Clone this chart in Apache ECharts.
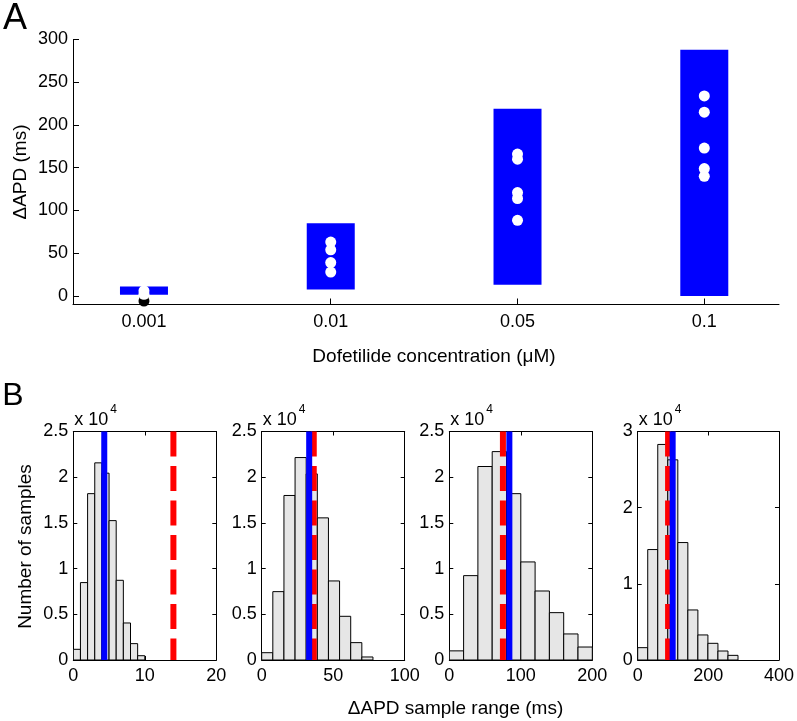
<!DOCTYPE html>
<html>
<head>
<meta charset="utf-8">
<script src="https://cdn.jsdelivr.net/npm/echarts@6/dist/echarts.min.js"></script>
<style>
html,body{margin:0;padding:0;background:#fff;}
#c{width:797px;height:721px;}
</style>
</head>
<body>
<div id="c"></div>
<script>
// ---------- Panel A data ----------
const catLabels = ['0.001', '0.01', '0.05', '0.1'];
const rangeLow  = [1.5, 7.5, 13, 0];
const rangeHigh = [11, 85, 219, 288];
const dotsWhite = [
  [6, 2],
  [63, 54, 39, 28],
  [166, 160, 121, 114, 88.5],
  [234, 215, 173, 149, 140]
];
const dotsBlack = [[-6], [], [], []];
const yTicksA = [0, 50, 100, 150, 200, 250, 300];

// ---------- Panel B data ----------
const histBinWidth = [1, 7.78, 20, 28.4];
const hist1 = [1170, 8470, 18200, 21570, 20440, 15250, 8720, 4050, 1790, 470];
const hist2 = [800, 7480, 18000, 22150, 20360, 15550, 8650, 4780, 1900, 330];
const hist3 = [1000, 9230, 21170, 22800, 18200, 10730, 7550, 5180, 2850, 1420];
const hist4 = [1620, 14500, 28300, 26280, 15420, 6570, 3290, 2190, 1180, 610];
const histCounts = [hist1, hist2, hist3, hist4];
const blueLine = [4.33, 33.2, 84, 99];
const redLine  = [14, 36.4, 75, 86];
const xMaxB = [20, 100, 200, 400];
const xTicksB = [[0, 10, 20], [0, 50, 100], [0, 100, 200], [0, 200, 400]];
const yMaxB = [25000, 25000, 25000, 30000];
const yTicksB = [
  [0, 5000, 10000, 15000, 20000, 25000],
  [0, 5000, 10000, 15000, 20000, 25000],
  [0, 5000, 10000, 15000, 20000, 25000],
  [0, 10000, 20000, 30000]
];

const FONT = 'Liberation Sans, Arial, Helvetica, sans-serif';
const TICK_FS = 18;
const LABEL_FS = 19;
const chart = echarts.init(document.getElementById('c'), null, {renderer: 'canvas'});

const grids = [{left: 73, top: 39.5, width: 706, height: 265}];
const gLeft = [73.3, 261.7, 449.3, 637.7];
gLeft.forEach(l => grids.push({left: l, top: 431.5, width: 143, height: 228.5}));

const xAxes = [];
const yAxes = [];
const series = [];

// Panel A axes
xAxes.push({
  gridIndex: 0, type: 'value', min: 0.62, max: 4.4,
  axisLine: {show: true, onZero: false, lineStyle: {color: '#000', width: 1}},
  axisTick: {show: true, inside: true, length: 6, customValues: [1, 2, 3, 4], lineStyle: {color: '#000'}},
  axisLabel: {show: true, customValues: [1, 2, 3, 4], formatter: v => catLabels[Math.round(v) - 1] || '',
    color: '#000', fontFamily: FONT, fontSize: TICK_FS, margin: 9},
  splitLine: {show: false}
});
yAxes.push({
  gridIndex: 0, type: 'value', min: -10, max: 300,
  axisLine: {show: true, onZero: false, lineStyle: {color: '#000', width: 1}},
  axisTick: {show: true, inside: true, length: 6, customValues: yTicksA, lineStyle: {color: '#000'}},
  axisLabel: {show: true, customValues: yTicksA, color: '#000', fontFamily: FONT, fontSize: TICK_FS, margin: 5},
  splitLine: {show: false}
});

// Panel A series
series.push({
  type: 'custom', xAxisIndex: 0, yAxisIndex: 0,
  data: catLabels.map((c, i) => [i + 1, rangeLow[i], rangeHigh[i]]),
  encode: {x: 0, y: [1, 2]},
  renderItem: (params, api) => {
    const x = api.value(0);
    const pTop = api.coord([x, api.value(2)]);
    const pBot = api.coord([x, api.value(1)]);
    const w = api.size([0.257, 0])[0];
    return {type: 'rect', shape: {x: pTop[0] - w / 2, y: pTop[1], width: w, height: pBot[1] - pTop[1]},
      style: {fill: '#0000ff'}};
  },
  z: 2
});
const blackData = [];
dotsBlack.forEach((arr, i) => arr.forEach(v => blackData.push([i + 1, v])));
const whiteData = [];
dotsWhite.forEach((arr, i) => arr.forEach(v => whiteData.push([i + 1, v])));
series.push({type: 'scatter', xAxisIndex: 0, yAxisIndex: 0, data: blackData, symbolSize: 11,
  itemStyle: {color: '#000', opacity: 1}, z: 3, clip: false});
series.push({type: 'scatter', xAxisIndex: 0, yAxisIndex: 0, data: whiteData, symbolSize: 11,
  itemStyle: {color: '#fff', opacity: 1}, z: 4, clip: false});

// Panel B
for (let k = 0; k < 4; k++) {
  const g = k + 1;
  const xi = xAxes.length;
  xAxes.push({
    gridIndex: g, type: 'value', min: 0, max: xMaxB[k], position: 'bottom',
    axisLine: {show: true, onZero: false, lineStyle: {color: '#000', width: 1}},
    axisTick: {show: true, inside: true, length: 4, customValues: xTicksB[k], lineStyle: {color: '#000'}},
    axisLabel: {show: true, customValues: xTicksB[k], color: '#000', fontFamily: FONT, fontSize: TICK_FS, margin: 7},
    splitLine: {show: false}
  });
  xAxes.push({
    gridIndex: g, type: 'value', min: 0, max: xMaxB[k], position: 'top',
    axisLine: {show: true, onZero: false, lineStyle: {color: '#000', width: 1}},
    axisTick: {show: true, inside: true, length: 4, customValues: xTicksB[k], lineStyle: {color: '#000'}},
    axisLabel: {show: false},
    splitLine: {show: false}
  });
  const yi = yAxes.length;
  yAxes.push({
    gridIndex: g, type: 'value', min: 0, max: yMaxB[k], position: 'left',
    axisLine: {show: true, onZero: false, lineStyle: {color: '#000', width: 1}},
    axisTick: {show: true, inside: true, length: 4, customValues: yTicksB[k], lineStyle: {color: '#000'}},
    axisLabel: {show: true, customValues: yTicksB[k], formatter: v => String(v / 10000),
      color: '#000', fontFamily: FONT, fontSize: TICK_FS, margin: 5},
    splitLine: {show: false}
  });
  yAxes.push({
    gridIndex: g, type: 'value', min: 0, max: yMaxB[k], position: 'right',
    axisLine: {show: true, onZero: false, lineStyle: {color: '#000', width: 1}},
    axisTick: {show: true, inside: true, length: 4, customValues: yTicksB[k], lineStyle: {color: '#000'}},
    axisLabel: {show: false},
    splitLine: {show: false}
  });
  const bw = histBinWidth[k];
  series.push({
    type: 'custom', xAxisIndex: xi, yAxisIndex: yi,
    data: histCounts[k].map((c, i) => [i * bw, (i + 1) * bw, c]),
    encode: {x: [0, 1], y: 2},
    clip: true,
    renderItem: (params, api) => {
      const p0 = api.coord([api.value(0), api.value(2)]);
      const p1 = api.coord([api.value(1), 0]);
      return {type: 'rect', shape: {x: p0[0], y: p0[1], width: p1[0] - p0[0], height: p1[1] - p0[1]},
        style: {fill: '#e6e6e6', stroke: '#000', lineWidth: 1}};
    },
    z: 2
  });
  const vline = (val, color, dash, z, lw) => ({
    type: 'custom', xAxisIndex: xi, yAxisIndex: yi,
    data: [[val, 0]],
    encode: {x: 0, y: 1},
    renderItem: (params, api) => {
      const cs = params.coordSys;
      const px = api.coord([api.value(0), 0])[0];
      return {type: 'line', shape: {x1: px, y1: cs.y, x2: px, y2: cs.y + cs.height},
        style: {stroke: color, lineWidth: lw, lineDash: dash, lineCap: 'butt'}};
    },
    z: z
  });
  series.push(vline(redLine[k], '#ff0000', [25, 9.5], 3, 6));
  series.push(vline(blueLine[k], '#0000ff', null, 4, 6));
}

// Texts
const graphics = [];
const txt = (text, x, y, size, opts) => Object.assign({
  type: 'text', x: x, y: y,
  style: {text: text, font: size + 'px ' + FONT, fill: '#000',
    textAlign: 'center', textVerticalAlign: 'middle', align: 'center', verticalAlign: 'middle'}
}, opts || {});
graphics.push(txt('A', 15, 19, 36));
graphics.push(txt('B', 13, 396, 32));
graphics.push(txt('ΔAPD (ms)', 21, 172, LABEL_FS, {rotation: Math.PI / 2}));
graphics.push(txt('Number of samples', 26, 546.5, LABEL_FS, {rotation: Math.PI / 2}));
graphics.push(txt('Dofetilide concentration (μM)', 434, 357, LABEL_FS));
graphics.push(txt('ΔAPD sample range (ms)', 455.5, 709, LABEL_FS));
gLeft.forEach(l => {
  const t1 = txt('x 10', l + 1, 420, TICK_FS);
  t1.style.textAlign = 'left'; t1.style.align = 'left';
  graphics.push(t1);
  const t2 = txt('4', l + 37, 410, 12);
  t2.style.textAlign = 'left'; t2.style.align = 'left';
  graphics.push(t2);
});

chart.setOption({
  animation: false,
  backgroundColor: '#fff',
  grid: grids,
  xAxis: xAxes,
  yAxis: yAxes,
  series: series,
  graphic: graphics
});
</script>
</body>
</html>
